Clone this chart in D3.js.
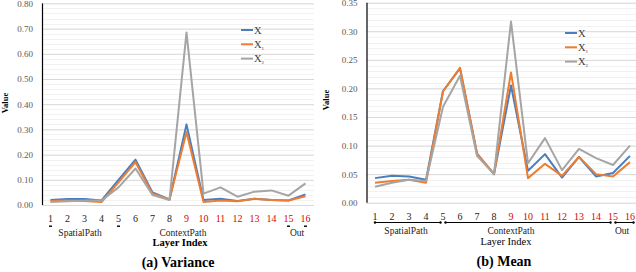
<!DOCTYPE html>
<html>
<head>
<meta charset="utf-8">
<script src="https://cdn.jsdelivr.net/npm/d3@7"></script>
<style>
  body { margin: 0; background: #fff; }
</style>
</head>
<body>
<svg width="636" height="272"></svg>
<script>
// layer indices 1..16
const layers = d3.range(1, 17);
const redFrom = 9; // labels 9..16 drawn red

const seriesNames = ["X", "X1", "X2"];
const seriesColors = ["#4a7ebf", "#ed7d31", "#a5a5a5"];

// (a) Variance
const varX  = [0.020, 0.024, 0.024, 0.018, 0.100, 0.180, 0.050, 0.022, 0.320, 0.020, 0.025, 0.016, 0.025, 0.020, 0.018, 0.042];
const varX1 = [0.016, 0.018, 0.016, 0.012, 0.090, 0.170, 0.045, 0.022, 0.290, 0.012, 0.018, 0.015, 0.025, 0.020, 0.018, 0.035];
const varX2 = [0.012, 0.015, 0.018, 0.018, 0.070, 0.145, 0.040, 0.020, 0.685, 0.045, 0.070, 0.033, 0.053, 0.058, 0.037, 0.086];
const varTicks = [0, 0.1, 0.2, 0.3, 0.4, 0.5, 0.6, 0.7, 0.8];

// (b) Mean
const meanX  = [0.043, 0.047, 0.046, 0.040, 0.195, 0.235, 0.086, 0.050, 0.205, 0.056, 0.085, 0.044, 0.080, 0.046, 0.052, 0.082];
const meanX1 = [0.035, 0.038, 0.040, 0.035, 0.195, 0.236, 0.086, 0.050, 0.228, 0.043, 0.068, 0.047, 0.080, 0.050, 0.046, 0.071];
const meanX2 = [0.028, 0.035, 0.040, 0.038, 0.168, 0.222, 0.082, 0.050, 0.317, 0.069, 0.113, 0.057, 0.094, 0.078, 0.066, 0.100];
const meanTicks = [0, 0.05, 0.1, 0.15, 0.2, 0.25, 0.3, 0.35];

// group spans below the x axis: [label, from layer, to layer]
const groups = [["SpatialPath", 1, 5], ["ContextPath", 5, 15], ["Out", 15, 16]];

const FONT = '"Liberation Serif", "Times New Roman", Times, "DejaVu Serif", serif';
const svg = d3.select("svg");

function drawPanel(opt) {
  const g = svg.append("g");
  const x = d3.scaleBand().domain(layers).range([opt.left, opt.left + 16 * 17]);
  const cx = d => x(d) + x.bandwidth() / 2;
  const y = d3.scaleLinear().domain([0, opt.max]).range([opt.bottom, opt.top]);
  const right = opt.left + 16 * 17;

  // minor grid
  g.append("g").selectAll("line")
    .data(d3.range(0, opt.max + 1e-9, opt.minor))
    .join("line")
      .attr("x1", opt.left).attr("x2", right)
      .attr("y1", d => Math.round(y(d)) + 0.5).attr("y2", d => Math.round(y(d)) + 0.5)
      .attr("stroke", "#f2f2f2");

  // major grid + labels
  const yAxis = g.append("g")
    .attr("transform", "translate(" + opt.left + ",0)")
    .call(d3.axisLeft(y).tickValues(opt.ticks).tickSize(-(right - opt.left)).tickPadding(9)
      .tickFormat(d3.format(".2f")));
  yAxis.select(".domain").remove();
  yAxis.selectAll(".tick line").attr("stroke", "#d9d9d9");
  yAxis.selectAll(".tick text").attr("fill", "#595959").style("font-size", "9px");

  // y axis line
  g.append("line")
    .attr("x1", opt.left + 0.5).attr("x2", opt.left + 0.5)
    .attr("y1", opt.top).attr("y2", opt.bottom)
    .attr("stroke", "#000").attr("stroke-width", 1.2);

  // y title
  g.append("text")
    .attr("transform", "translate(" + opt.yTitleX + "," + opt.yTitleY + ") rotate(-90)")
    .attr("text-anchor", "middle")
    .style("font-size", "8.5px").style("font-weight", "bold")
    .text("Value");

  // lines
  const line = d3.line().x((d, i) => cx(layers[i])).y(d => y(d));
  opt.series.forEach(function(s, k) {
    g.append("path")
      .datum(s)
      .attr("d", line)
      .attr("fill", "none")
      .attr("stroke", seriesColors[k])
      .attr("stroke-width", 2)
      .attr("stroke-linejoin", "round");
  });

  // x tick labels
  g.append("g").selectAll("text")
    .data(layers)
    .join("text")
      .attr("x", cx)
      .attr("y", opt.tickY)
      .attr("text-anchor", "middle")
      .attr("fill", d => d >= redFrom ? "#e00000" : "#222")
      .style("font-size", "10px")
      .text(d => d);

  // group bracket
  if (opt.bracket) {
    const by = opt.tickY + 2.5;
    groups.forEach(function(gr) {
      const x1 = cx(gr[1]) + (gr[1] === 1 ? 0 : 2.5);
      const x2 = gr[2] === 16 ? right - 5 : cx(gr[2]) - 2.5;
      g.append("line").attr("x1", x1).attr("x2", x2).attr("y1", by).attr("y2", by)
        .attr("stroke", "#000").attr("stroke-width", 1);
      [x1, x2].forEach(function(px) {
        g.append("circle").attr("cx", px).attr("cy", by).attr("r", 1.2).attr("fill", "#000");
      });
    });
  } else {
    // leftover marks under some labels
    [1, 5, 15, 16].forEach(function(d) {
      g.append("rect").attr("x", cx(d) - 1.5).attr("y", opt.tickY + 4).attr("width", 3).attr("height", 1.4)
        .attr("fill", "#000");
    });
  }

  // group labels
  g.append("g").selectAll("text")
    .data(groups)
    .join("text")
      .attr("x", (d, i) => opt.groupX[i])
      .attr("y", opt.groupY)
      .attr("text-anchor", "middle")
      .attr("fill", "#222")
      .style("font-size", "9.5px")
      .text(d => d[0]);

  g.append("text")
    .attr("x", opt.layerX).attr("y", opt.layerY)
    .attr("text-anchor", "middle")
    .style("font-size", "10.5px")
    .style("font-weight", opt.layerBold ? "bold" : "normal")
    .text("Layer Index");

  g.append("text")
    .attr("x", opt.titleX).attr("y", opt.titleY)
    .attr("text-anchor", "middle")
    .style("font-size", "14px").style("font-weight", "bold")
    .text(opt.title);

  // legend
  const lg = g.append("g").attr("transform", "translate(" + opt.legX + "," + opt.legY + ")");
  seriesNames.forEach(function(n, k) {
    const row = lg.append("g").attr("transform", "translate(0," + (k * 14.3) + ")");
    row.append("line").attr("x1", 0).attr("x2", 12).attr("y1", 0).attr("y2", 0)
      .attr("stroke", seriesColors[k]).attr("stroke-width", 2);
    const t = row.append("text").attr("x", 13).attr("y", 3.5)
      .attr("fill", "#404040").style("font-size", "10.5px");
    t.append("tspan").text("X");
    if (k > 0) t.append("tspan").attr("dy", 2).style("font-size", "5px").text(n.slice(1));
  });
}

drawPanel({
  left: 42, top: 3.4, bottom: 205, max: 0.8, minor: 0.02, ticks: varTicks,
  series: [varX, varX1, varX2],
  yTitleX: 8, yTitleY: 103, tickY: 221.5, bracket: false,
  groupY: 236, groupX: [80, 183, 297],
  layerX: 180, layerY: 245.5, layerBold: true,
  titleX: 178, titleY: 267, title: "(a) Variance",
  legX: 241, legY: 30
});

drawPanel({
  left: 366.5, top: 2.7, bottom: 202.7, max: 0.35, minor: 0.01, ticks: meanTicks,
  series: [meanX, meanX1, meanX2],
  yTitleX: 329, yTitleY: 100, tickY: 220, bracket: true,
  groupY: 234, groupX: [406, 511, 622],
  layerX: 506, layerY: 245, layerBold: false,
  titleX: 504, titleY: 266, title: "(b) Mean",
  legX: 565, legY: 33
});

// serif text everywhere (axis groups set their own sans family)
svg.selectAll("g").attr("font-family", null);
svg.selectAll("text").attr("font-family", FONT).style("font-family", FONT);
</script>
</body>
</html>
